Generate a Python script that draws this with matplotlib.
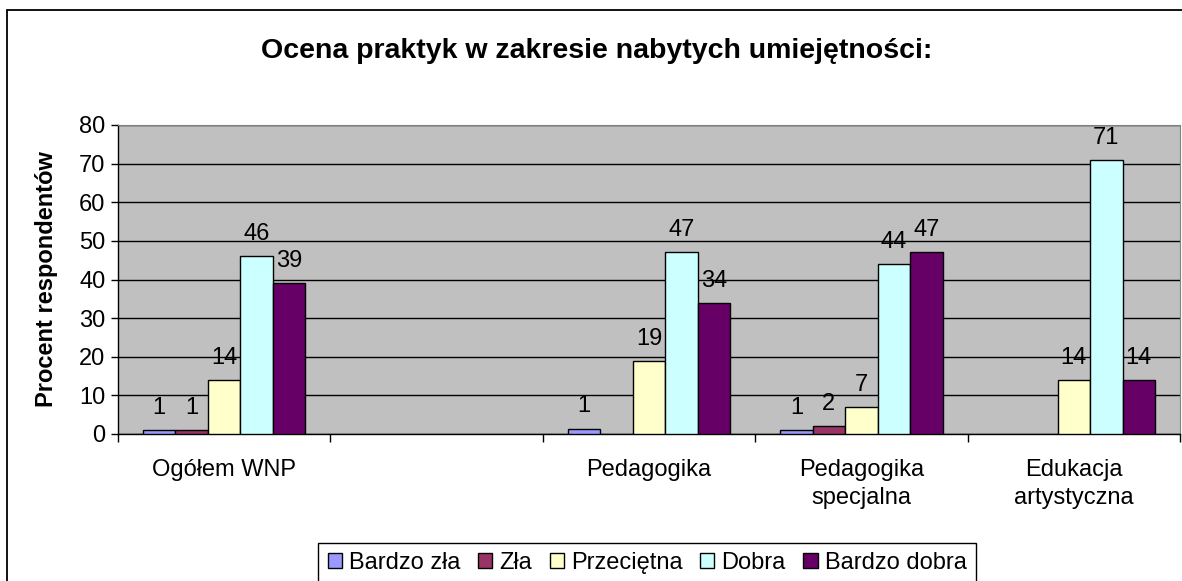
import numpy as np
import matplotlib
matplotlib.use("Agg")
import matplotlib.pyplot as plt
from matplotlib.patches import Rectangle

plt.rcParams['font.family'] = ['Liberation Sans', 'DejaVu Sans']

categories = ["Ogółem WNP", "", "Pedagogika", "Pedagogika\nspecjalna", "Edukacja\nartystyczna"]
series_names = ["Bardzo zła", "Zła", "Przeciętna", "Dobra", "Bardzo dobra"]
bardzo_zla = [1, np.nan, 1.4, 1, np.nan]
zla = [1, np.nan, np.nan, 2, np.nan]
przecietna = [14, np.nan, 19, 7, 14]
dobra = [46, np.nan, 47, 44, 71]
bardzo_dobra = [39, np.nan, 34, 47, 14]
labels = [
    ["1", "", "1", "1", ""],
    ["1", "", "", "2", ""],
    ["14", "", "19", "7", "14"],
    ["46", "", "47", "44", "71"],
    ["39", "", "34", "47", "14"],
]
colors = ["#9999FF", "#993366", "#FFFFCC", "#CCFFFF", "#660066"]
yticks = [0, 10, 20, 30, 40, 50, 60, 70, 80]

W, H = 1182, 581
FS = 17
fig = plt.figure(figsize=(W / 100, H / 100), dpi=100)
fig.patch.set_facecolor("white")

# outer chart border
fig.patches.append(Rectangle((7 / W, -0.05), 1.2, (H - 10) / H + 0.05,
                             transform=fig.transFigure, fill=False,
                             edgecolor="black", linewidth=1.3))

ax = fig.add_axes([118 / W, (H - 434) / H, (1180 - 118) / W, (434 - 125) / H])
ax.set_facecolor("#C0C0C0")

all_series = [bardzo_zla, zla, przecietna, dobra, bardzo_dobra]
n = len(all_series)
x = np.arange(len(categories))
group = 0.765
bw = group / n
for i, (vals, col) in enumerate(zip(all_series, colors)):
    pos = x - group / 2 + bw * (i + 0.5)
    v = np.array(vals, dtype=float)
    mask = ~np.isnan(v)
    ax.bar(pos[mask], v[mask], width=bw, color=col, edgecolor="black",
           linewidth=1.0, zorder=3)
    for p, val, lab in zip(pos, v, labels[i]):
        if lab and not np.isnan(val):
            ax.annotate(lab, (p, val), xytext=(0, 8), textcoords="offset points",
                        ha="center", va="bottom", fontsize=FS, zorder=4)

ax.set_ylim(0, 80)
ax.set_xlim(-0.5, len(categories) - 0.5)
ax.set_yticks(yticks)
ax.yaxis.grid(True, color="black", linewidth=1.0, zorder=0)
ax.set_axisbelow(True)
ax.tick_params(axis="y", labelsize=FS, length=5, width=1, direction="out", pad=4)

ax.set_xticks(np.arange(len(categories) + 1) - 0.5)
ax.set_xticklabels([])
ax.tick_params(axis="x", length=6, width=1, direction="out")
ax.set_xticks(x, minor=True)
ax.set_xticklabels(categories, minor=True, fontsize=FS, linespacing=1.36)
ax.tick_params(axis="x", which="minor", length=0, pad=18)
for lab in ax.get_xticklabels(minor=True):
    lab.set_verticalalignment("top")

for s in ["top", "right"]:
    ax.spines[s].set_color("#808080")
for s in ["left", "bottom"]:
    ax.spines[s].set_color("black")
    ax.spines[s].set_linewidth(1.0)

ax.set_ylabel("Procent respondentów", fontsize=FS, fontweight="bold", labelpad=15)

fig.text(597 / W, (H - 51) / H, "Ocena praktyk w zakresie nabytych umiejętności:",
         ha="center", va="center", fontsize=20.5, fontweight="bold")

handles = [Rectangle((0, 0), 1, 1, facecolor=c, edgecolor="black", linewidth=1.0) for c in colors]
leg = fig.legend(handles, series_names, loc="center",
                 bbox_to_anchor=(647 / W, (H - 563) / H), ncol=5, fontsize=FS,
                 frameon=True, fancybox=False, edgecolor="black", framealpha=1,
                 handlelength=0.6, handleheight=0.6, handletextpad=0.3,
                 columnspacing=0.75, borderpad=0.4, borderaxespad=0)
leg.get_frame().set_linewidth(1.0)

fig.savefig("out.png", dpi=100)
